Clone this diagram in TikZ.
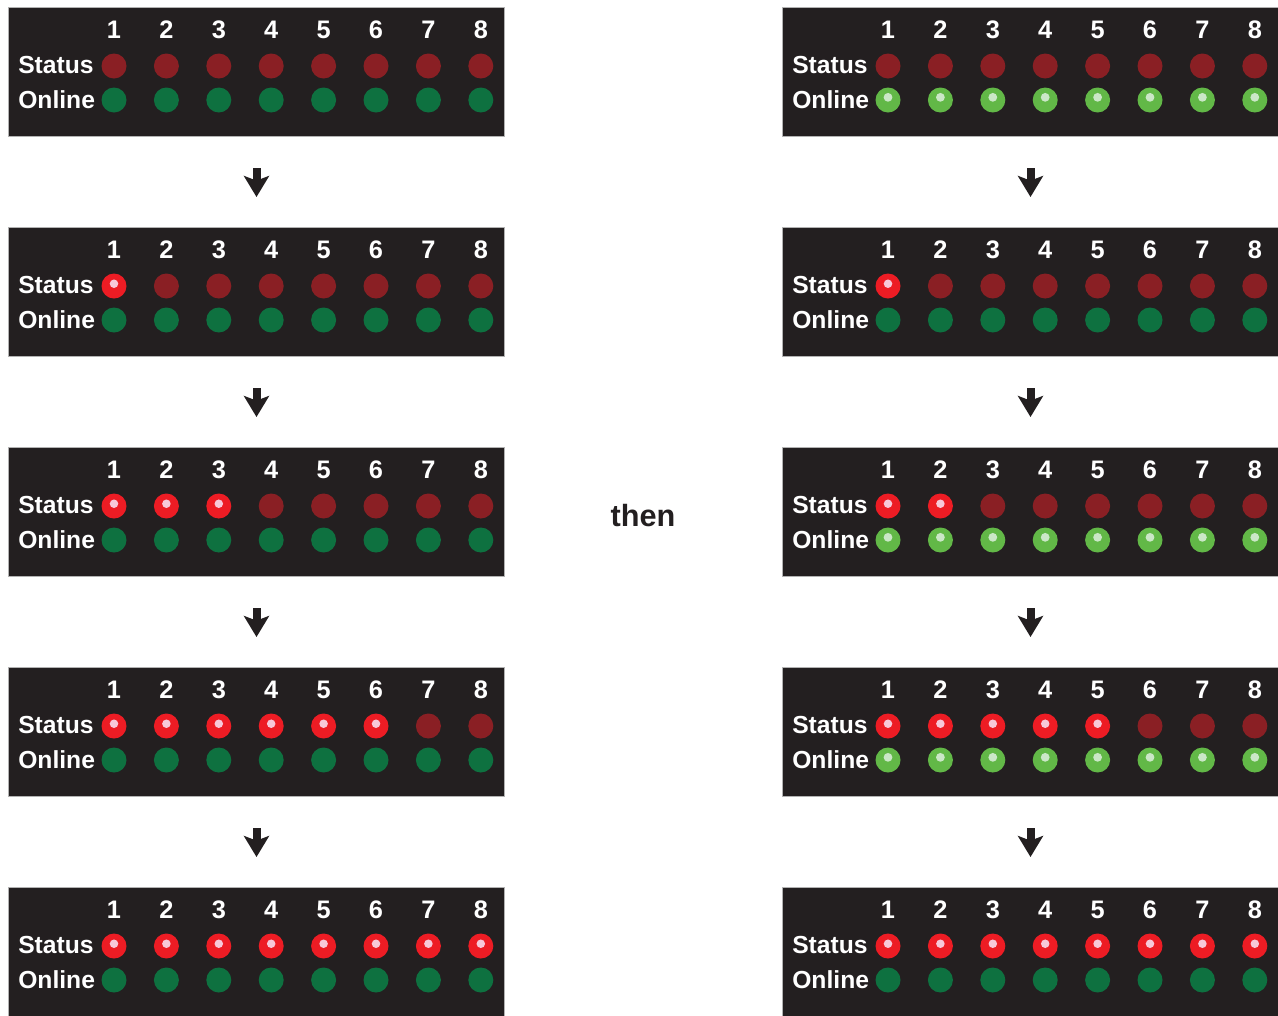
\documentclass[tikz,border=0pt]{standalone}
\usepackage{fontspec}
\setmainfont{Liberation Sans}
\usetikzlibrary{arrows.meta}

\definecolor{panelbg}{HTML}{231F20}
\definecolor{redoff}{HTML}{8A1F24}
\definecolor{redon}{HTML}{ED1C24}
\definecolor{redhi}{HTML}{F7C9D9}
\definecolor{greenoff}{HTML}{0E7140}
\definecolor{greenon}{HTML}{62B847}
\definecolor{greenhi}{HTML}{CBE7C7}

\tikzset{
  panel/.style={draw=gray!60, line width=0.75pt, fill=panelbg, anchor=north west,
    minimum width=372pt, minimum height=96.75pt, inner sep=0pt},
  ledtext/.style={text=white, font=\bfseries\fontsize{18.5}{20}\selectfont, inner sep=0pt},
  digit/.style={ledtext, font=\bfseries\fontsize{19}{21}\selectfont, anchor=base},
  led/.style={circle, minimum size=18.75pt, inner sep=0pt},
  statusoff/.style={led, fill=redoff},
  statuson/.style={led, fill=redon, path picture={
    \fill[redhi] ([yshift=1.7pt]path picture bounding box.center) circle (3.2pt);}},
  onlineoff/.style={led, fill=greenoff},
  onlineon/.style={led, fill=greenon, path picture={
    \fill[greenhi] ([yshift=2pt]path picture bounding box.center) circle (3.3pt);}},
  flow/.style={line width=6pt, draw=panelbg,
    -{Stealth[width=18.75pt,length=15.75pt,inset=3.5pt]},
    shorten <=23.25pt, shorten >=22.5pt}
}

% one LED panel: name, left, top, number of lit status LEDs, style of online LEDs
\newcommand{\ledpanel}[5]{%
  \node[panel] (#1) at (#2,#3) {};
  \begin{scope}[shift={(#2,#3)}]
    \node[ledtext, anchor=base west] (#1-st) at (10,66) {Status};
    \node[ledtext, anchor=base west] (#1-on) at (10,101) {Online};
    \foreach \i in {1,...,8} {
      \pgfmathsetmacro\cx{106+52.4*(\i-1)}
      \node[digit] (#1-n\i) at (\cx,31) {\i};
      \ifnum\i>#4
        \node[statusoff] (#1-s\i) at (\cx,59) {};
      \else
        \node[statuson] (#1-s\i) at (\cx,59) {};
      \fi
      \node[#5] (#1-o\i) at (\cx,93) {};
    }
  \end{scope}
}

\begin{document}
\begin{tikzpicture}[x=0.75pt, y=-0.75pt]
    \useasboundingbox[fill=white] (0,0) rectangle (1278,1015);

    % Left column
    \ledpanel{L1}{8}{7}{0}{onlineoff}
    \ledpanel{L2}{8}{227}{1}{onlineoff}
    \ledpanel{L3}{8}{447}{3}{onlineoff}
    \ledpanel{L4}{8}{667}{6}{onlineoff}
    \ledpanel{L5}{8}{887}{8}{onlineoff}

    % Right column
    \ledpanel{R1}{782}{7}{0}{onlineon}
    \ledpanel{R2}{782}{227}{1}{onlineoff}
    \ledpanel{R3}{782}{447}{2}{onlineon}
    \ledpanel{R4}{782}{667}{5}{onlineon}
    \ledpanel{R5}{782}{887}{8}{onlineoff}

    % Arrows
    \foreach \a/\b in {1/2,2/3,3/4,4/5} {
        \draw[flow] (L\a.south) -- (L\b.north);
        \draw[flow] (R\a.south) -- (R\b.north);
    }

    \node[text=panelbg, font=\bfseries\fontsize{23}{26}\selectfont] (then) at (643,516) {then};
\end{tikzpicture}
\end{document}
